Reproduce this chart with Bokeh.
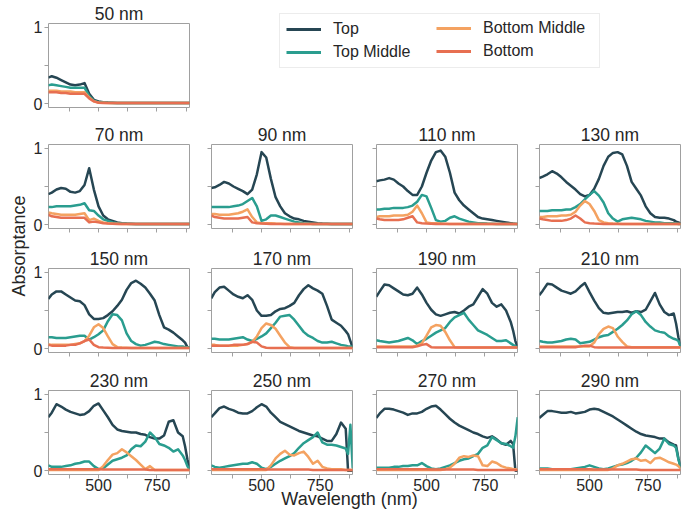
import math
from bokeh.plotting import figure
from bokeh.layouts import row, column
from bokeh.models import Range1d, FixedTicker, Label, Legend, LegendItem
from bokeh.embed import file_html
from bokeh.resources import INLINE

# ---------------- data ----------------
wavelength = [285, 300, 320, 340, 360, 380, 400, 420, 440, 460, 480,
              500, 520, 540, 560, 580, 600, 620, 640, 660, 680, 700,
              720, 740, 760, 780, 800, 820, 840, 860, 870, 880, 890]

panel_titles = ["50 nm", "70 nm", "90 nm", "110 nm", "130 nm", "150 nm", "170 nm",
                "190 nm", "210 nm", "230 nm", "250 nm", "270 nm", "290 nm"]
series_names = ["Top", "Top Middle", "Bottom Middle", "Bottom"]
series_colors = ["#264653", "#2a9d8f", "#f4a261", "#e76f51"]
x_major_ticks = [500, 750]
x_minor_ticks = [375, 625, 875]
y_major_ticks = [0, 1]
y_minor_ticks = [0.5]

top_50 = [0.34, 0.36, 0.34, 0.31, 0.28, 0.25, 0.24, 0.25, 0.27, 0.13, 0.05,
          0.03, 0.02, 0.015, 0.012, 0.01, 0.01, 0.01, 0.01, 0.01, 0.01, 0.01,
          0.01, 0.01, 0.01, 0.01, 0.01, 0.01, 0.01, 0.01, 0.01, 0.01, 0.01]
top_middle_50 = [0.24, 0.25, 0.24, 0.23, 0.22, 0.21, 0.21, 0.21, 0.21, 0.10, 0.04,
                 0.02, 0.015, 0.012, 0.01, 0.01, 0.01, 0.01, 0.01, 0.01, 0.01, 0.01,
                 0.01, 0.01, 0.01, 0.01, 0.01, 0.01, 0.01, 0.01, 0.01, 0.01, 0.01]
bottom_middle_50 = [0.17, 0.17, 0.17, 0.16, 0.16, 0.16, 0.15, 0.15, 0.15, 0.08, 0.03,
                    0.015, 0.012, 0.01, 0.01, 0.01, 0.01, 0.01, 0.01, 0.01, 0.01, 0.01,
                    0.01, 0.01, 0.01, 0.01, 0.01, 0.01, 0.01, 0.01, 0.01, 0.01, 0.01]
bottom_50 = [0.15, 0.15, 0.15, 0.14, 0.14, 0.13, 0.13, 0.13, 0.13, 0.07, 0.03,
             0.012, 0.01, 0.01, 0.01, 0.01, 0.01, 0.01, 0.01, 0.01, 0.01, 0.01,
             0.01, 0.01, 0.01, 0.01, 0.01, 0.01, 0.01, 0.01, 0.01, 0.01, 0.01]

top_70 = [0.40, 0.42, 0.46, 0.48, 0.47, 0.43, 0.42, 0.44, 0.52, 0.74, 0.46,
          0.24, 0.12, 0.07, 0.05, 0.03, 0.02, 0.015, 0.012, 0.01, 0.01, 0.01,
          0.01, 0.01, 0.01, 0.01, 0.01, 0.01, 0.01, 0.01, 0.01, 0.01, 0.01]
top_middle_70 = [0.23, 0.23, 0.24, 0.24, 0.24, 0.24, 0.25, 0.26, 0.28, 0.19, 0.18,
                 0.12, 0.07, 0.05, 0.03, 0.02, 0.015, 0.012, 0.01, 0.01, 0.01, 0.01,
                 0.01, 0.01, 0.01, 0.01, 0.01, 0.01, 0.01, 0.01, 0.01, 0.01, 0.01]
bottom_middle_70 = [0.16, 0.15, 0.14, 0.13, 0.13, 0.13, 0.13, 0.14, 0.15, 0.06, 0.08,
                    0.05, 0.03, 0.02, 0.015, 0.012, 0.01, 0.01, 0.01, 0.01, 0.01, 0.01,
                    0.01, 0.01, 0.01, 0.01, 0.01, 0.01, 0.01, 0.01, 0.01, 0.01, 0.01]
bottom_70 = [0.13, 0.11, 0.10, 0.09, 0.09, 0.09, 0.09, 0.09, 0.09, 0.03, 0.04,
             0.03, 0.02, 0.015, 0.012, 0.01, 0.01, 0.01, 0.01, 0.01, 0.01, 0.01,
             0.01, 0.01, 0.01, 0.01, 0.01, 0.01, 0.01, 0.01, 0.01, 0.01, 0.01]

top_90 = [0.48, 0.49, 0.52, 0.56, 0.54, 0.50, 0.47, 0.44, 0.40, 0.46, 0.66,
          0.95, 0.88, 0.60, 0.36, 0.24, 0.15, 0.11, 0.08, 0.07, 0.05, 0.04,
          0.03, 0.02, 0.015, 0.012, 0.01, 0.01, 0.01, 0.01, 0.01, 0.01, 0.01]
top_middle_90 = [0.23, 0.23, 0.23, 0.23, 0.23, 0.24, 0.25, 0.27, 0.31, 0.35, 0.24,
                 0.05, 0.07, 0.12, 0.12, 0.10, 0.08, 0.06, 0.04, 0.03, 0.02, 0.015,
                 0.01, 0.01, 0.01, 0.01, 0.01, 0.01, 0.01, 0.01, 0.01, 0.01, 0.01]
bottom_middle_90 = [0.14, 0.14, 0.13, 0.13, 0.13, 0.14, 0.15, 0.17, 0.20, 0.10, 0.03,
                    0.02, 0.02, 0.02, 0.015, 0.012, 0.01, 0.01, 0.01, 0.01, 0.01, 0.01,
                    0.01, 0.01, 0.01, 0.01, 0.01, 0.01, 0.01, 0.01, 0.01, 0.01, 0.01]
bottom_90 = [0.12, 0.10, 0.09, 0.08, 0.08, 0.08, 0.08, 0.09, 0.10, 0.03, 0.02,
             0.015, 0.012, 0.01, 0.01, 0.01, 0.01, 0.01, 0.01, 0.01, 0.01, 0.01,
             0.01, 0.01, 0.01, 0.01, 0.01, 0.01, 0.01, 0.01, 0.01, 0.01, 0.01]

top_110 = [0.57, 0.58, 0.59, 0.61, 0.59, 0.54, 0.50, 0.44, 0.39, 0.39, 0.50,
           0.68, 0.84, 0.95, 0.97, 0.89, 0.68, 0.42, 0.32, 0.25, 0.20, 0.15,
           0.10, 0.08, 0.07, 0.06, 0.05, 0.04, 0.03, 0.02, 0.015, 0.012, 0.01]
top_middle_110 = [0.20, 0.20, 0.21, 0.21, 0.22, 0.22, 0.22, 0.23, 0.25, 0.30, 0.39,
                  0.37, 0.22, 0.06, 0.04, 0.05, 0.09, 0.11, 0.08, 0.06, 0.04, 0.03,
                  0.02, 0.02, 0.015, 0.012, 0.01, 0.01, 0.01, 0.01, 0.01, 0.01, 0.01]
bottom_middle_110 = [0.10, 0.11, 0.11, 0.11, 0.12, 0.12, 0.12, 0.13, 0.17, 0.25, 0.15,
                     0.03, 0.02, 0.02, 0.015, 0.012, 0.01, 0.01, 0.01, 0.01, 0.01, 0.01,
                     0.01, 0.01, 0.01, 0.01, 0.01, 0.01, 0.01, 0.01, 0.01, 0.01, 0.01]
bottom_110 = [0.08, 0.07, 0.06, 0.06, 0.06, 0.06, 0.07, 0.09, 0.11, 0.03, 0.02,
              0.015, 0.012, 0.01, 0.01, 0.01, 0.01, 0.01, 0.01, 0.01, 0.01, 0.01,
              0.01, 0.01, 0.01, 0.01, 0.01, 0.01, 0.01, 0.01, 0.01, 0.01, 0.01]

top_130 = [0.61, 0.63, 0.66, 0.70, 0.67, 0.62, 0.56, 0.51, 0.46, 0.40, 0.37,
           0.39, 0.47, 0.60, 0.77, 0.89, 0.94, 0.95, 0.92, 0.77, 0.56, 0.47,
           0.38, 0.24, 0.15, 0.10, 0.09, 0.09, 0.08, 0.06, 0.04, 0.03, 0.01]
top_middle_130 = [0.18, 0.18, 0.18, 0.19, 0.19, 0.19, 0.20, 0.20, 0.23, 0.27, 0.33,
                  0.39, 0.44, 0.38, 0.29, 0.15, 0.08, 0.04, 0.07, 0.08, 0.09, 0.08,
                  0.07, 0.05, 0.04, 0.03, 0.03, 0.02, 0.02, 0.02, 0.015, 0.01, 0.01]
bottom_middle_130 = [0.10, 0.10, 0.11, 0.11, 0.11, 0.12, 0.12, 0.13, 0.17, 0.25, 0.31,
                     0.27, 0.18, 0.06, 0.03, 0.02, 0.015, 0.012, 0.01, 0.01, 0.01, 0.01,
                     0.01, 0.01, 0.01, 0.01, 0.01, 0.01, 0.01, 0.01, 0.01, 0.01, 0.01]
bottom_130 = [0.08, 0.07, 0.06, 0.05, 0.05, 0.05, 0.06, 0.08, 0.12, 0.08, 0.03,
              0.02, 0.015, 0.012, 0.01, 0.01, 0.01, 0.01, 0.01, 0.01, 0.01, 0.01,
              0.01, 0.01, 0.01, 0.01, 0.01, 0.01, 0.01, 0.01, 0.01, 0.01, 0.01]

top_150 = [0.65, 0.71, 0.75, 0.75, 0.71, 0.67, 0.63, 0.62, 0.57, 0.45, 0.39,
           0.39, 0.40, 0.44, 0.49, 0.56, 0.64, 0.77, 0.86, 0.89, 0.85, 0.80,
           0.72, 0.63, 0.44, 0.28, 0.25, 0.21, 0.16, 0.11, 0.08, 0.02, 0.01]
top_middle_150 = [0.15, 0.15, 0.14, 0.14, 0.14, 0.15, 0.16, 0.17, 0.17, 0.12, 0.15,
                  0.19, 0.24, 0.36, 0.45, 0.44, 0.37, 0.20, 0.10, 0.06, 0.04, 0.05,
                  0.07, 0.09, 0.08, 0.06, 0.05, 0.04, 0.03, 0.03, 0.02, 0.02, 0.02]
bottom_middle_150 = [0.06, 0.05, 0.05, 0.05, 0.05, 0.05, 0.06, 0.07, 0.10, 0.17, 0.28,
                     0.32, 0.27, 0.16, 0.06, 0.02, 0.015, 0.012, 0.01, 0.01, 0.01, 0.01,
                     0.01, 0.01, 0.01, 0.01, 0.01, 0.01, 0.01, 0.01, 0.01, 0.01, 0.01]
bottom_150 = [0.05, 0.04, 0.04, 0.04, 0.04, 0.05, 0.05, 0.07, 0.10, 0.12, 0.05,
              0.02, 0.015, 0.012, 0.01, 0.01, 0.01, 0.01, 0.01, 0.01, 0.01, 0.01,
              0.01, 0.01, 0.01, 0.01, 0.01, 0.01, 0.01, 0.01, 0.01, 0.01, 0.01]

top_170 = [0.66, 0.74, 0.80, 0.81, 0.76, 0.71, 0.68, 0.66, 0.70, 0.64, 0.50,
           0.43, 0.43, 0.44, 0.49, 0.52, 0.53, 0.56, 0.60, 0.70, 0.78, 0.83,
           0.79, 0.76, 0.72, 0.56, 0.38, 0.34, 0.30, 0.23, 0.19, 0.10, 0.01]
top_middle_170 = [0.13, 0.13, 0.12, 0.12, 0.12, 0.13, 0.14, 0.15, 0.12, 0.10, 0.13,
                  0.16, 0.20, 0.27, 0.34, 0.42, 0.43, 0.44, 0.38, 0.30, 0.22, 0.17,
                  0.14, 0.10, 0.08, 0.08, 0.09, 0.07, 0.05, 0.04, 0.03, 0.03, 0.03]
bottom_middle_170 = [0.05, 0.05, 0.04, 0.04, 0.04, 0.04, 0.04, 0.05, 0.06, 0.09, 0.16,
                     0.27, 0.33, 0.31, 0.26, 0.17, 0.08, 0.02, 0.01, 0.01, 0.01, 0.01,
                     0.01, 0.01, 0.01, 0.01, 0.01, 0.01, 0.01, 0.01, 0.01, 0.01, 0.01]
bottom_170 = [0.04, 0.04, 0.04, 0.04, 0.04, 0.05, 0.05, 0.05, 0.06, 0.09, 0.08,
              0.03, 0.012, 0.01, 0.01, 0.01, 0.01, 0.01, 0.01, 0.01, 0.01, 0.01,
              0.01, 0.01, 0.01, 0.01, 0.01, 0.01, 0.01, 0.01, 0.01, 0.01, 0.01]

top_190 = [0.68, 0.75, 0.84, 0.83, 0.79, 0.75, 0.71, 0.70, 0.72, 0.80, 0.71,
           0.60, 0.51, 0.45, 0.43, 0.45, 0.47, 0.48, 0.46, 0.50, 0.55, 0.58,
           0.68, 0.78, 0.72, 0.60, 0.55, 0.58, 0.50, 0.35, 0.24, 0.10, 0.01]
top_middle_190 = [0.11, 0.10, 0.09, 0.08, 0.09, 0.10, 0.12, 0.14, 0.11, 0.06, 0.10,
                  0.13, 0.17, 0.21, 0.24, 0.27, 0.35, 0.41, 0.44, 0.47, 0.38, 0.31,
                  0.24, 0.21, 0.18, 0.14, 0.10, 0.10, 0.11, 0.07, 0.05, 0.03, 0.01]
bottom_middle_190 = [0.03, 0.03, 0.03, 0.03, 0.03, 0.03, 0.03, 0.03, 0.03, 0.04, 0.07,
                     0.17, 0.28, 0.31, 0.30, 0.22, 0.11, 0.02, 0.015, 0.015, 0.015, 0.015,
                     0.015, 0.015, 0.015, 0.015, 0.015, 0.015, 0.015, 0.015, 0.015, 0.015, 0.015]
bottom_190 = [0.02, 0.02, 0.02, 0.02, 0.02, 0.02, 0.02, 0.02, 0.02, 0.03, 0.05,
              0.06, 0.02, 0.015, 0.015, 0.015, 0.015, 0.015, 0.015, 0.015, 0.015, 0.015,
              0.015, 0.015, 0.015, 0.015, 0.015, 0.015, 0.015, 0.015, 0.015, 0.015, 0.015]

top_210 = [0.70, 0.76, 0.85, 0.84, 0.80, 0.76, 0.74, 0.72, 0.75, 0.81, 0.86,
           0.74, 0.63, 0.53, 0.47, 0.46, 0.47, 0.48, 0.48, 0.49, 0.47, 0.49,
           0.48, 0.51, 0.62, 0.73, 0.58, 0.48, 0.44, 0.46, 0.33, 0.15, 0.02]
top_middle_210 = [0.10, 0.09, 0.08, 0.08, 0.09, 0.10, 0.12, 0.13, 0.12, 0.07, 0.08,
                  0.09, 0.12, 0.15, 0.17, 0.18, 0.22, 0.26, 0.31, 0.37, 0.45, 0.49,
                  0.44, 0.35, 0.29, 0.24, 0.22, 0.21, 0.16, 0.13, 0.12, 0.10, 0.02]
bottom_middle_210 = [0.03, 0.03, 0.03, 0.03, 0.03, 0.03, 0.03, 0.03, 0.03, 0.03, 0.03,
                     0.03, 0.08, 0.19, 0.26, 0.29, 0.27, 0.16, 0.09, 0.03, 0.02, 0.02,
                     0.02, 0.02, 0.02, 0.02, 0.02, 0.02, 0.02, 0.02, 0.02, 0.02, 0.02]
bottom_210 = [0.02, 0.02, 0.02, 0.02, 0.02, 0.02, 0.02, 0.02, 0.02, 0.03, 0.04,
              0.04, 0.02, 0.015, 0.015, 0.015, 0.015, 0.015, 0.015, 0.015, 0.015, 0.015,
              0.015, 0.015, 0.015, 0.015, 0.015, 0.015, 0.015, 0.015, 0.015, 0.015, 0.015]

top_230 = [0.70, 0.76, 0.87, 0.84, 0.80, 0.77, 0.75, 0.73, 0.74, 0.78, 0.85,
           0.88, 0.79, 0.70, 0.60, 0.54, 0.52, 0.51, 0.50, 0.50, 0.48, 0.47,
           0.44, 0.42, 0.42, 0.46, 0.64, 0.66, 0.50, 0.45, 0.32, 0.15, 0.01]
top_middle_230 = [0.07, 0.05, 0.05, 0.05, 0.06, 0.07, 0.09, 0.10, 0.12, 0.12, 0.06,
                  0.02, 0.03, 0.08, 0.13, 0.15, 0.17, 0.20, 0.28, 0.33, 0.32, 0.38,
                  0.50, 0.44, 0.35, 0.33, 0.30, 0.25, 0.28, 0.20, 0.14, 0.06, 0.01]
bottom_middle_230 = [0.01, 0.01, 0.01, 0.01, 0.01, 0.01, 0.01, 0.01, 0.01, 0.01, 0.01,
                     0.01, 0.06, 0.14, 0.21, 0.23, 0.28, 0.24, 0.19, 0.14, 0.08, 0.02,
                     0.06, 0.01, 0.01, 0.01, 0.01, 0.01, 0.01, 0.01, 0.01, 0.01, 0.01]
bottom_230 = [0.02, 0.02, 0.02, 0.02, 0.02, 0.02, 0.02, 0.02, 0.02, 0.02, 0.02,
              0.02, 0.015, 0.015, 0.015, 0.015, 0.015, 0.015, 0.015, 0.015, 0.015, 0.015,
              0.01, 0.01, 0.01, 0.01, 0.01, 0.01, 0.01, 0.01, 0.01, 0.01, 0.01]

top_250 = [0.70, 0.75, 0.82, 0.84, 0.81, 0.79, 0.76, 0.75, 0.75, 0.78, 0.83,
           0.87, 0.84, 0.76, 0.70, 0.64, 0.61, 0.58, 0.55, 0.52, 0.50, 0.48,
           0.46, 0.45, 0.42, 0.39, 0.39, 0.48, 0.63, 0.55, 0.0, 0.0, 0.0]
top_middle_250 = [0.07, 0.05, 0.04, 0.05, 0.06, 0.07, 0.08, 0.09, 0.09, 0.11, 0.09,
                  0.04, 0.02, 0.05, 0.09, 0.13, 0.16, 0.19, 0.23, 0.30, 0.36, 0.40,
                  0.44, 0.50, 0.37, 0.34, 0.34, 0.33, 0.31, 0.29, 0.22, 0.60, 0.03]
bottom_middle_250 = [0.01, 0.01, 0.01, 0.01, 0.01, 0.01, 0.01, 0.01, 0.01, 0.01, 0.01,
                     0.01, 0.01, 0.07, 0.16, 0.22, 0.26, 0.21, 0.20, 0.23, 0.25, 0.18,
                     0.09, 0.13, 0.05, 0.03, 0.02, 0.02, 0.02, 0.01, 0.01, 0.01, 0.01]
bottom_250 = [0.02, 0.02, 0.02, 0.02, 0.02, 0.02, 0.02, 0.02, 0.02, 0.02, 0.02,
              0.02, 0.015, 0.015, 0.015, 0.015, 0.015, 0.015, 0.015, 0.015, 0.015, 0.015,
              0.01, 0.01, 0.01, 0.01, 0.01, 0.01, 0.01, 0.01, 0.01, 0.01, 0.01]

top_270 = [0.69, 0.75, 0.81, 0.81, 0.80, 0.78, 0.76, 0.73, 0.75, 0.75, 0.77,
           0.81, 0.84, 0.85, 0.80, 0.74, 0.68, 0.63, 0.59, 0.56, 0.53, 0.50,
           0.48, 0.45, 0.43, 0.45, 0.41, 0.36, 0.34, 0.39, 0.35, 0.0, 0.0]
top_middle_270 = [0.04, 0.04, 0.04, 0.04, 0.05, 0.05, 0.06, 0.06, 0.07, 0.07, 0.10,
                  0.06, 0.03, 0.02, 0.03, 0.05, 0.07, 0.10, 0.13, 0.15, 0.16, 0.19,
                  0.22, 0.30, 0.33, 0.44, 0.40, 0.36, 0.35, 0.32, 0.30, 0.45, 0.70]
bottom_middle_270 = [0.01, 0.01, 0.01, 0.01, 0.01, 0.01, 0.01, 0.01, 0.01, 0.01, 0.01,
                     0.01, 0.01, 0.01, 0.01, 0.02, 0.04, 0.09, 0.17, 0.19, 0.18, 0.20,
                     0.19, 0.07, 0.06, 0.12, 0.10, 0.06, 0.04, 0.03, 0.02, 0.02, 0.01]
bottom_270 = [0.02, 0.02, 0.02, 0.02, 0.02, 0.02, 0.02, 0.02, 0.02, 0.02, 0.02,
              0.02, 0.015, 0.015, 0.015, 0.015, 0.015, 0.015, 0.015, 0.015, 0.015, 0.015,
              0.01, 0.01, 0.01, 0.01, 0.01, 0.01, 0.01, 0.01, 0.01, 0.01, 0.01]

top_290 = [0.69, 0.73, 0.78, 0.78, 0.77, 0.76, 0.76, 0.77, 0.75, 0.76, 0.77,
           0.80, 0.81, 0.80, 0.77, 0.74, 0.71, 0.67, 0.63, 0.59, 0.55, 0.51,
           0.48, 0.46, 0.45, 0.44, 0.42, 0.42, 0.37, 0.34, 0.33, 0.16, 0.04]
top_middle_290 = [0.03, 0.03, 0.03, 0.02, 0.02, 0.02, 0.02, 0.02, 0.03, 0.04, 0.05,
                  0.07, 0.05, 0.03, 0.02, 0.03, 0.05, 0.07, 0.08, 0.10, 0.13, 0.17,
                  0.24, 0.33, 0.28, 0.23, 0.29, 0.42, 0.35, 0.33, 0.30, 0.15, 0.04]
bottom_middle_290 = [0.01, 0.01, 0.01, 0.01, 0.01, 0.01, 0.01, 0.01, 0.01, 0.01, 0.01,
                     0.01, 0.01, 0.01, 0.01, 0.01, 0.03, 0.07, 0.09, 0.12, 0.15, 0.16,
                     0.13, 0.14, 0.10, 0.16, 0.17, 0.14, 0.11, 0.09, 0.08, 0.06, 0.03]
bottom_290 = [0.02, 0.02, 0.02, 0.02, 0.02, 0.02, 0.02, 0.02, 0.02, 0.02, 0.02,
              0.02, 0.015, 0.015, 0.015, 0.015, 0.015, 0.015, 0.015, 0.015, 0.015, 0.015,
              0.01, 0.01, 0.01, 0.01, 0.01, 0.01, 0.01, 0.01, 0.01, 0.01, 0.01]

panel_data = {
    "50 nm": [top_50, top_middle_50, bottom_middle_50, bottom_50],
    "70 nm": [top_70, top_middle_70, bottom_middle_70, bottom_70],
    "90 nm": [top_90, top_middle_90, bottom_middle_90, bottom_90],
    "110 nm": [top_110, top_middle_110, bottom_middle_110, bottom_110],
    "130 nm": [top_130, top_middle_130, bottom_middle_130, bottom_130],
    "150 nm": [top_150, top_middle_150, bottom_middle_150, bottom_150],
    "170 nm": [top_170, top_middle_170, bottom_middle_170, bottom_170],
    "190 nm": [top_190, top_middle_190, bottom_middle_190, bottom_190],
    "210 nm": [top_210, top_middle_210, bottom_middle_210, bottom_210],
    "230 nm": [top_230, top_middle_230, bottom_middle_230, bottom_230],
    "250 nm": [top_250, top_middle_250, bottom_middle_250, bottom_250],
    "270 nm": [top_270, top_middle_270, bottom_middle_270, bottom_270],
    "290 nm": [top_290, top_middle_290, bottom_middle_290, bottom_290],
}
for _t, _s in panel_data.items():
    for _v in _s:
        assert len(_v) == len(wavelength), _t

# ---------------- style / layout ----------------
FONT = "Liberation Sans"
TEXT = "#262626"
EDGE = "#a0a0a0"
FRAME_W, FRAME_H = 141, 84
YLAB_W = 30
LEFT = [18, 11, 12, 11]
RIGHT = [11, 12, 11, 5]
TOPB = [23, 23, 24, 24]
BOTB = [14, 16, 14, 23]
XLAB_H = 21
XLAB_OVERLAP = 9
LEG_SHIFT = 12


def make_panel(title, series, r, c):
    p = figure(frame_width=FRAME_W, frame_height=FRAME_H,
               x_range=Range1d(286, 889), y_range=Range1d(-0.05, 1.05),
               min_border_left=LEFT[c], min_border_right=RIGHT[c],
               min_border_top=TOPB[r], min_border_bottom=BOTB[r],
               toolbar_location=None, output_backend="svg", title=title)
    p.title.align = "center"
    p.title.text_font = FONT
    p.title.text_font_size = "17.5px"
    p.title.text_font_style = "normal"
    p.title.text_color = TEXT
    p.title.standoff = 0
    p.outline_line_color = EDGE
    p.outline_line_width = 1
    p.xgrid.visible = False
    p.ygrid.visible = False
    p.background_fill_color = "white"
    p.border_fill_color = "white"
    p.xaxis.ticker = FixedTicker(ticks=x_major_ticks, minor_ticks=x_minor_ticks)
    p.yaxis.ticker = FixedTicker(ticks=y_major_ticks, minor_ticks=y_minor_ticks)
    for ax in (p.xaxis[0], p.yaxis[0]):
        ax.axis_line_color = None
        ax.major_tick_line_color = EDGE
        ax.minor_tick_line_color = EDGE
        ax.major_tick_in = 0
        ax.major_tick_out = 4
        ax.minor_tick_in = 0
        ax.minor_tick_out = 4
        ax.major_label_text_font = FONT
        ax.major_label_text_font_size = "16px"
        ax.major_label_text_color = TEXT
    p.yaxis.major_label_standoff = 2
    p.xaxis.major_label_standoff = 0
    if c != 0:
        p.yaxis.major_label_overrides = {0: "", 1: ""}
        p.yaxis.major_label_text_font_size = "0px"
    if r != 3:
        p.xaxis.major_label_overrides = {500: "", 750: ""}
        p.xaxis.major_label_text_font_size = "0px"
    for vals, color in zip(series, series_colors):
        p.line(wavelength, vals, line_color=color, line_width=2.5, line_join="round")
    return p


row1_h = TOPB[0] + FRAME_H + BOTB[0]
panels = [make_panel("50 nm", panel_data["50 nm"], 0, 0)]

# legend figure (spans columns 2-4 of the first row); its frame lines up with
# the 50 nm frame, so it is lifted a little to hold the legend box.
leg_w = sum(LEFT[i] + FRAME_W + RIGHT[i] for i in (1, 2, 3))
leg_fig = figure(width=leg_w, height=row1_h, x_range=Range1d(0, 1), y_range=Range1d(0, 1),
                 toolbar_location=None, output_backend="svg",
                 x_axis_location=None, y_axis_location=None,
                 min_border_left=0, min_border_right=0,
                 min_border_top=TOPB[0], min_border_bottom=BOTB[0])
leg_fig.outline_line_color = None
leg_fig.xgrid.visible = False
leg_fig.ygrid.visible = False
leg_fig.background_fill_color = None
leg_fig.border_fill_color = None
leg_fig.margin = (-LEG_SHIFT, 0, 0, 0)
# legend proxies: the 50 nm series, drawn outside the legend figure's view
proxies = []
for vals, color in zip(panel_data["50 nm"], series_colors):
    proxies.append(leg_fig.line(wavelength, vals, line_color=color, line_width=3))


def make_legend(idx, loc, boxed, label_width):
    items = [LegendItem(label=series_names[i], renderers=[proxies[i]]) for i in idx]
    return Legend(items=items, location=loc, orientation="vertical",
                  glyph_width=35, glyph_height=18, label_height=18, label_width=label_width,
                  label_standoff=12, spacing=5, padding=6, margin=0,
                  label_text_font=FONT, label_text_font_size="16px", label_text_color=TEXT,
                  border_line_color="#d9d9d9" if boxed else None, border_line_width=1,
                  background_fill_color="white",
                  background_fill_alpha=1.0 if boxed else 0.0)


# frame bottom of the legend figure (page px) = row1 frame bottom - shift
frame_bottom = TOPB[0] + FRAME_H - LEG_SHIFT
leg_fig.add_layout(make_legend([0, 1], (279 - 200, frame_bottom - 68), True, 260))
leg_fig.add_layout(make_legend([2, 3], (436 - 200, frame_bottom - 60), False, 20))

rows = [row(panels[0], leg_fig)]
grid_titles = [panel_titles[1:5], panel_titles[5:9], panel_titles[9:13]]
for ri, titles in enumerate(grid_titles, start=1):
    figs = [make_panel(t, panel_data[t], ri, ci) for ci, t in enumerate(titles)]
    rows.append(row(*figs))

grid_w = (LEFT[0] + FRAME_W + RIGHT[0]) + leg_w

# x axis label figure
xl_fig = figure(width=grid_w, height=XLAB_H, x_range=Range1d(0, 1), y_range=Range1d(0, 1),
                toolbar_location=None, output_backend="svg",
                x_axis_location=None, y_axis_location=None, min_border=0)
xl_fig.outline_line_color = None
xl_fig.background_fill_color = None
xl_fig.border_fill_color = None
xl_fig.xgrid.visible = False
xl_fig.ygrid.visible = False
xl_fig.add_layout(Label(x=349 - YLAB_W, y=10.5, x_units="screen", y_units="screen",
                        text="Wavelength (nm)", text_align="center", text_baseline="middle",
                        text_font=FONT, text_font_size="18px", text_color=TEXT))
xl_fig.margin = (-XLAB_OVERLAP, 0, 0, 0)

total_h = sum(TOPB[i] + FRAME_H + BOTB[i] for i in range(4)) + XLAB_H - XLAB_OVERLAP

yl_fig = figure(width=YLAB_W, height=total_h, x_range=Range1d(0, 1), y_range=Range1d(0, 1),
                toolbar_location=None, output_backend="svg",
                x_axis_location=None, y_axis_location=None, min_border=0)
yl_fig.outline_line_color = None
yl_fig.xgrid.visible = False
yl_fig.ygrid.visible = False
yl_fig.add_layout(Label(x=18.5, y=total_h - 245.5, x_units="screen", y_units="screen",
                        text="Absorptance", angle=math.pi / 2,
                        text_align="center", text_baseline="middle",
                        text_font=FONT, text_font_size="18px", text_color=TEXT))

layout = row(yl_fig, column(*rows, xl_fig))

open("out.html", "w").write(file_html(layout, INLINE))
